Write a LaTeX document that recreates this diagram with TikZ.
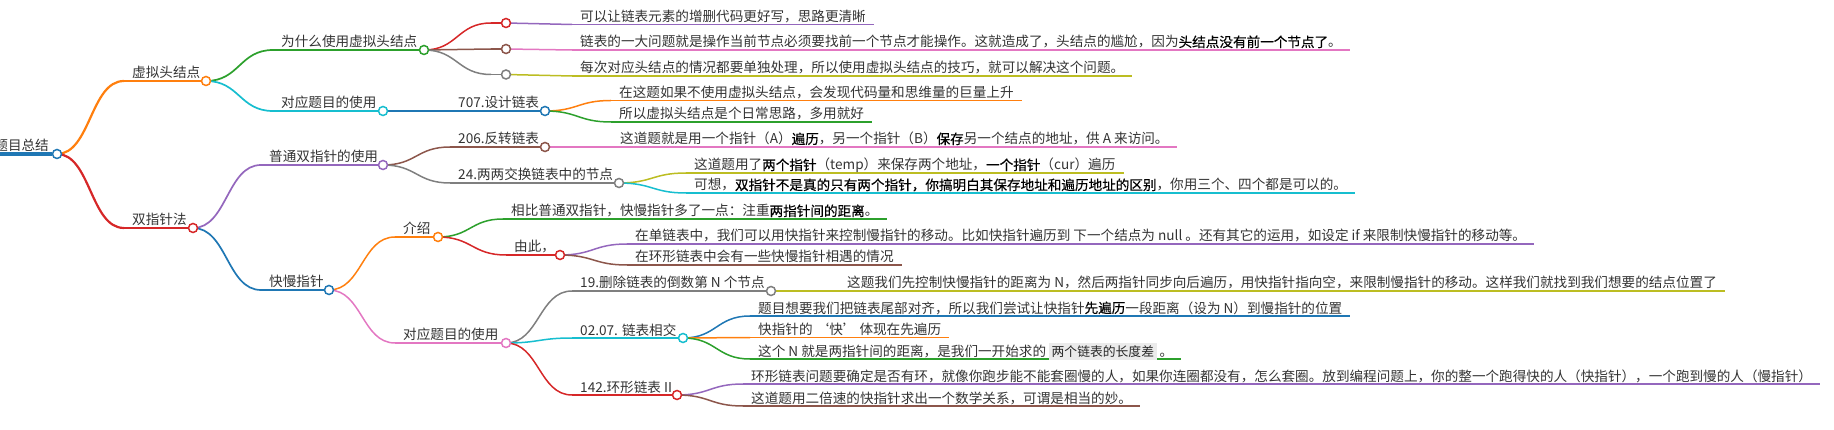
\documentclass[tikz,border=0pt]{standalone}
\usepackage{fontspec}
\setmainfont{Noto Sans CJK SC}
\newfontfamily\bdfont{Noto Sans CJK SC}[FakeBold=0.4]
\usetikzlibrary{calc}
\definecolor{c1}{HTML}{1F77B4}
\definecolor{c2}{HTML}{FF7F0E}
\definecolor{c3}{HTML}{2CA02C}
\definecolor{c4}{HTML}{D62728}
\definecolor{c5}{HTML}{9467BD}
\definecolor{c6}{HTML}{8C564B}
\definecolor{c7}{HTML}{E377C2}
\definecolor{c8}{HTML}{7F7F7F}
\definecolor{c9}{HTML}{BCBD22}
\definecolor{c10}{HTML}{17BECF}
\definecolor{txtc}{HTML}{333333}
\definecolor{codebg}{HTML}{EBEBEB}
\pgfdeclarelayer{bg}
\pgfsetlayers{bg,main}
\newcommand\bd[1]{{\bdfont\color{black}#1}}
\newcommand\codespan[1]{{\setlength\fboxsep{2.5pt}\colorbox{codebg}{\fontsize{12.8}{14}\selectfont\color{black!85}#1}}}
\tikzset{
  lbl/.style={anchor=base west, inner xsep=8pt, inner ysep=0pt, text=txtc, font=\fontsize{13.6}{16}\selectfont},
  dot/.style={circle, draw=#1, fill=white, line width=1.5pt, minimum size=9pt, inner sep=0pt},
}
\newcommand\lnk[3]{\draw[#1] let \p1=(#2), \p2=(#3) in (\p1) .. controls ({(\x1+\x2)/2},\y1) and ({(\x1+\x2)/2},\y2) .. (\p2);}
% name, parent, color, width, xl, cx, y, text
\newcommand\hub[8]{%
  \node[dot=#3] (#1) at (#6,#7) {};
  \node[lbl] (#1-t) at (#5,#7-3) {#8};
  \coordinate (#1-l) at (#5,#7);
  \begin{pgfonlayer}{bg}
    \draw[#3, line width=#4] (#1-l) -- (#1);
    \lnk{#3, line width=#4}{#2}{#1-l}
  \end{pgfonlayer}}
% name, parent, color, xl, y, text
\newcommand\leaf[6]{%
  \node[lbl] (#1-t) at (#4,#5-3) {#6};
  \coordinate (#1-l) at (#4,#5);
  \begin{pgfonlayer}{bg}
    \draw[#3, line width=1.5pt] (#1-l) -- (#1-l -| #1-t.east);
    \lnk{#3, line width=1.5pt}{#2}{#1-l}
  \end{pgfonlayer}}
\begin{document}
\begin{tikzpicture}[x=1pt,y=-1pt]
\useasboundingbox (0,0) rectangle (1834,430);
% root
\node[dot=c1] (root) at (57,154) {};
\node[lbl, anchor=base east] (root-t) at (57,150.5) {题目总结};
\coordinate (root-l) at (-20,154);
\begin{pgfonlayer}{bg}
  \draw[c1, line width=3.5pt] (root-l) -- (root);
\end{pgfonlayer}
% level 1
\hub{xuni}{root}{c2}{2.2pt}{124}{206}{81}{虚拟头结点}
\hub{shuang}{root}{c4}{2.2pt}{124}{193}{228}{双指针法}
% level 2
\hub{why}{xuni}{c3}{1.7pt}{273}{424}{50}{为什么使用虚拟头结点}
\hub{dya}{xuni}{c10}{1.7pt}{273}{383}{111}{对应题目的使用}
\hub{pt}{shuang}{c5}{1.7pt}{261}{383}{165}{普通双指针的使用}
\hub{km}{shuang}{c1}{1.7pt}{261}{329}{290}{快慢指针}
% why
\hub{ea}{why}{c4}{1.5pt}{491}{506}{23}{}
\hub{eb}{why}{c6}{1.5pt}{491}{506}{49}{}
\hub{ec}{why}{c8}{1.5pt}{491}{506}{74.5}{}
\leaf{la}{ea}{c5}{572}{24.5}{可以让链表元素的增删代码更好写，思路更清晰}
\leaf{lb}{eb}{c7}{572}{50}{链表的一大问题就是操作当前节点必须要找前一个节点才能操作。这就造成了，头结点的尴尬，因为\bd{头结点没有前一个节点了}。}
\leaf{lc}{ec}{c9}{572}{76}{每次对应头结点的情况都要单独处理，所以使用虚拟头结点的技巧，就可以解决这个问题。}
% 707
\hub{nsev}{dya}{c1}{1.5pt}{450}{545}{111}{707.设计链表}
\leaf{lsa}{nsev}{c2}{611}{100.5}{在这题如果不使用虚拟头结点，会发现代码量和思维量的巨量上升}
\leaf{lsb}{nsev}{c3}{611}{122}{所以虚拟头结点是个日常思路，多用就好}
% 206 / 24
\hub{ntwo}{pt}{c6}{1.5pt}{450}{545}{147}{206.反转链表}
\leaf{ltwo}{ntwo}{c7}{612}{147}{这道题就是用一个指针（A）\bd{遍历}，另一个指针（B）\bd{保存}另一个结点的地址，供 A 来访问。}
\hub{nswap}{pt}{c8}{1.5pt}{450}{619}{183}{24.两两交换链表中的节点}
\leaf{lswa}{nswap}{c9}{686}{173}{这道题用了\bd{两个指针}（temp）来保存两个地址，\bd{一个指针}（cur）遍历}
\leaf{lswb}{nswap}{c10}{686}{193}{可想，\bd{双指针不是真的只有两个指针，你搞明白其保存地址和遍历地址的区别}，你用三个、四个都是可以的。}
% 快慢指针
\hub{js}{km}{c2}{1.5pt}{395}{438}{237}{介绍}
\leaf{ljs}{js}{c3}{503}{219}{相比普通双指针，快慢指针多了一点：注重\bd{两指针间的距离}。}
\hub{yc}{js}{c4}{1.5pt}{506}{560}{255}{由此，}
\leaf{lyca}{yc}{c5}{627}{244}{在单链表中，我们可以用快指针来控制慢指针的移动。比如快指针遍历到 下一个结点为 null 。还有其它的运用，如设定 if 来限制快慢指针的移动等。}
\leaf{lycb}{yc}{c6}{627}{265}{在环形链表中会有一些快慢指针相遇的情况}
\hub{dyb}{km}{c7}{1.5pt}{395}{506}{343}{对应题目的使用}
\hub{nnine}{dyb}{c8}{1.5pt}{572}{771}{291}{19.删除链表的倒数第 N 个节点}
\leaf{lnine}{nnine}{c9}{839}{291}{这题我们先控制快慢指针的距离为 N，然后两指针同步向后遍历，用快指针指向空，来限制慢指针的移动。这样我们就找到我们想要的结点位置了}
\hub{nint}{dyb}{c10}{1.5pt}{572}{683}{338}{02.07. 链表相交}
\leaf{linta}{nint}{c1}{750}{316}{题目想要我们把链表尾部对齐，所以我们尝试让快指针\bd{先遍历}一段距离（设为 N）到慢指针的位置}
\leaf{lintb}{nint}{c2}{750}{337.5}{快指针的 ‘快’ 体现在先遍历}
\leaf{lintc}{nint}{c3}{750}{359}{这个 N 就是两指针间的距离，是我们一开始求的 \codespan{两个链表的长度差} 。}
\hub{ncyc}{dyb}{c4}{1.5pt}{572}{677}{395}{142.环形链表 II}
\leaf{lcya}{ncyc}{c5}{743}{384}{环形链表问题要确定是否有环，就像你跑步能不能套圈慢的人，如果你连圈都没有，怎么套圈。放到编程问题上，你的整一个跑得快的人（快指针），一个跑到慢的人（慢指针）}
\leaf{lcyb}{ncyc}{c6}{743}{406}{这道题用二倍速的快指针求出一个数学关系，可谓是相当的妙。}
\end{tikzpicture}
\end{document}
